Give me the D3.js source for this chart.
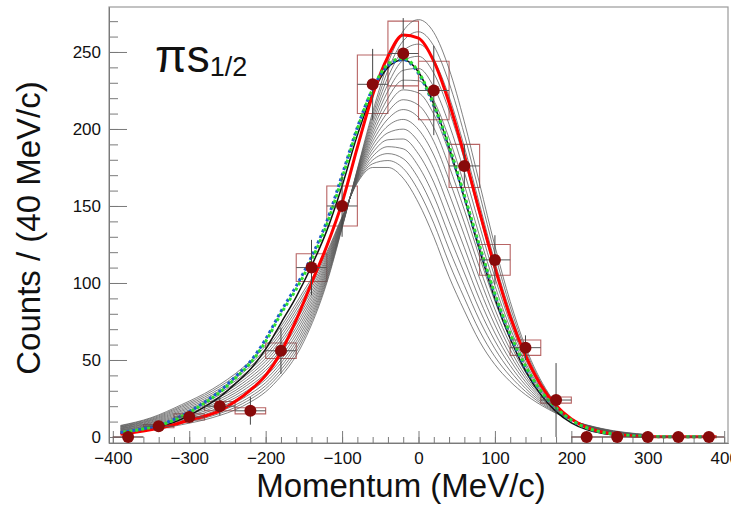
<!DOCTYPE html>
<html><head><meta charset="utf-8">
<script src="https://cdn.jsdelivr.net/npm/d3@7"></script>
<style>
body{margin:0;background:#fff;}
svg{display:block;font-family:"Liberation Sans",Arial,Helvetica,sans-serif;}
</style></head><body>
<svg id="chart" width="731" height="507"></svg>
<script>
// Measured spectrum, 40 MeV/c bins
const binCenters = [-380,-340,-300,-260,-220,-180,-140,-100,-60,-20,20,60,100,140,180,220,260,300,340,380];
const counts     = [0,7,13,20,17,56,110,150,229,249,225,176,115,58,24,0,0,0,0,0];
const statErrors = [0,3,4,6,9,15,18,20,23,23,29,14,16,8,24,0,0,0,0,0];
const sysErrors  = [0,1,2,3,2,5,9,13,19,21,19,14,10,5,2,0,0,0,0,0];
const binHalfWidth = 20;

// Family of model calculations (thin grey lines)
const modelGrid = [-390,-350,-310,-270,-230,-190,-150,-120,-100,-80,-60,-40,-20,0,20,40,60,80,100,120,140,170,200,240,300];
const modelFamily = [
  [7.5,12.5,21,31,45,65,95,120,143,165,175,175,168,152,130,104,82,62,47,36,27.5,18,11,5.5,1.5],
  [7.2,12.0,20.1,29.8,43.3,62.9,92.8,118.7,142.5,165.6,177.4,179.5,174.4,159.9,138.8,113,90.2,68.8,52.1,39.5,29.6,18.7,11.1,5.3,1.4],
  [6.8,11.4,19.3,28.5,41.7,60.9,90.6,117.3,142,166.2,179.8,184,180.7,167.9,147.7,122,98.3,75.7,57.3,42.9,31.6,19.4,11.1,5.2,1.3],
  [6.5,10.9,18.4,27.3,40,58.8,88.4,116,141.5,166.8,182.2,188.5,187.1,175.8,156.5,131,106.5,82.5,62.4,46.4,33.7,20.1,11.2,5.0,1.2],
  [6.2,10.4,17.5,26.1,38.3,56.7,86.2,114.7,141,167.4,184.6,193,193.5,183.7,165.4,140,114.7,89.3,67.5,49.9,35.8,20.8,11.2,4.8,1.2],
  [5.8,9.8,16.7,24.8,36.7,54.7,84,113.3,140.5,168,187,197.5,199.9,191.7,174.2,149,122.9,96.1,72.7,53.3,37.9,21.5,11.3,4.7,1.1],
  [5.5,9.3,15.8,23.6,35,52.6,81.8,112,140,168.6,189.4,202,206.2,199.6,183.1,158,131,103,77.8,56.8,39.9,22.2,11.4,4.5,1.0],
  [5.2,8.8,14.9,22.4,33.3,50.5,79.6,110.7,139.5,169.2,191.8,206.5,212.6,207.5,191.9,167,139.2,109.8,82.9,60.3,42,22.9,11.4,4.3,0.9],
  [4.8,8.2,14.1,21.1,31.7,48.5,77.4,109.3,139.1,169.8,194.2,211.1,219,215.5,200.8,176,147.4,116.6,88.1,63.7,44.1,23.6,11.5,4.2,0.8],
  [4.5,7.7,13.2,19.9,30,46.4,75.2,108,138.6,170.4,196.6,215.6,225.4,223.4,209.6,185,155.6,123.4,93.2,67.2,46.2,24.3,11.5,4.0,0.7],
  [4.2,7.2,12.3,18.7,28.3,44.3,73,106.7,138.1,171,199,220.1,231.7,231.3,218.5,194,163.7,130.3,98.3,70.7,48.2,25,11.6,3.8,0.6],
  [3.8,6.6,11.5,17.4,26.7,42.3,70.8,105.3,137.6,171.6,201.4,224.6,238.1,239.3,227.3,203,171.9,137.1,103.5,74.1,50.3,25.7,11.7,3.7,0.5],
  [3.5,6.1,10.6,16.2,25,40.2,68.6,104,137.1,172.2,203.8,229.1,244.5,247.2,236.2,212,180.1,143.9,108.6,77.6,52.4,26.4,11.7,3.5,0.5],
  [3.2,5.6,9.7,15.0,23.3,38.1,66.4,102.7,136.6,172.8,206.2,233.6,250.8,255.1,245,221,188.3,150.8,113.7,81.1,54.5,27.1,11.8,3.3,0.4],
  [2.8,5.0,8.9,13.7,21.7,36.1,64.2,101.3,136.1,173.4,208.6,238.1,257.2,263.1,253.9,230,196.4,157.6,118.9,84.5,56.5,27.8,11.8,3.2,0.3],
  [2.5,4.5,8,12.5,20,34,62,100,135.6,174,211,242.6,263.6,271,262.7,239,204.6,164.4,124,88,58.6,28.5,11.9,3.0,0.2]
];

// Highlighted calculations
const fitGrid  = [-390,-380,-360,-340,-320,-300,-280,-260,-240,-220,-200,-180,-160,-140,-120,-100,-80,-60,-40,-20,0,20,40,60,80,100,120,140,160,180,200,220,240,260,280,300,320,340,360,380,390];
const fitRed   = [1.8,2.4,3.8,5.6,8,11,13.5,17,23,30.5,40,55,76,100,124,152,188,222,247,261,259,244,217,183,146,110,78,53,33.8,20.4,11.7,6.3,3.2,1.6,0.7,0.3,0.15,0.1,0.1,0.1,0.1];
const fitBlack = [2.2,2.8,4.3,6.3,9.5,14,19.5,26,34.5,44,57,74,91,111,134,163,196,223,240,245,237,216,188,155,121,90,64,43,27.5,16.5,9.2,4.8,2.4,1.2,0.6,0.3,0.15,0.1,0.1,0.1,0.1];
const fitBlue  = [2.9,3.6,5.4,7.6,11.4,16.5,22.6,29.8,39,49,63.5,81.5,98,117,140,170,201,226,241,245,236,215,188,156,123,92,66,45,29.5,18.7,10.8,5.9,3.1,1.6,0.8,0.4,0.2,0.1,0.1,0.1,0.1];
const fitGreen = [2.8,3.5,5.2,7.3,11,16,22,29,38,48,62,80,96,115,138,168,200,226,242,246,237,216,189,157,124,93,67,46,30,19,11,6,3.2,1.6,0.8,0.4,0.2,0.1,0.1,0.1,0.1];

// Axis ticks
const xMajorTicks = [-400,-300,-200,-100,0,100,200,300,400];
const yMajorTicks = [0,50,100,150,200,250];

const W = 731, H = 507;
const frame = {left:109, right:728, top:7, bottom:443};
const svg = d3.select("#chart");
svg.append("rect").attr("width",W).attr("height",H).attr("fill","#fff");

const x = d3.scaleLinear().domain([-405,405]).range([frame.left, frame.right]);
const y = d3.scaleLinear().domain([-3.9,279.2]).range([frame.bottom, frame.top]);

const axisColor = "#7a7a7a";

// frame
svg.append("rect")
  .attr("x",frame.left).attr("y",frame.top)
  .attr("width",frame.right-frame.left).attr("height",frame.bottom-frame.top)
  .attr("fill","none").attr("stroke","#9a9a9a").attr("stroke-width",1.2);

// axes: ticks point into the frame
const yMinor = d3.range(0, 280, 10);
const xMinor = d3.range(-400, 401, 20);

const gy = svg.append("g").attr("transform",`translate(${frame.left},0)`);
gy.call(d3.axisLeft(y).tickValues(yMinor).tickSize(-9).tickSizeOuter(0).tickFormat(""));
gy.selectAll(".tick line").attr("stroke",axisColor);
const gyMaj = svg.append("g").attr("transform",`translate(${frame.left},0)`);
gyMaj.call(d3.axisLeft(y).tickValues(yMajorTicks).tickSize(-18).tickSizeOuter(0).tickPadding(8));
gyMaj.selectAll(".tick line").attr("stroke",axisColor);
gyMaj.selectAll(".tick text").attr("font-size",17).attr("fill","#111")
  .attr("font-family","Liberation Sans, Arial, sans-serif");

const gx = svg.append("g").attr("transform",`translate(0,${frame.bottom})`);
gx.call(d3.axisBottom(x).tickValues(xMinor).tickSize(-6).tickSizeOuter(0).tickFormat(""));
gx.selectAll(".tick line").attr("stroke",axisColor);
const gxMaj = svg.append("g").attr("transform",`translate(0,${frame.bottom})`);
gxMaj.call(d3.axisBottom(x).tickValues(xMajorTicks).tickSize(-12).tickSizeOuter(0).tickPadding(9));
gxMaj.selectAll(".tick line").attr("stroke",axisColor);
gxMaj.selectAll(".tick text").attr("font-size",17).attr("fill","#111")
  .attr("font-family","Liberation Sans, Arial, sans-serif");
svg.selectAll(".domain").attr("stroke",axisColor);

// systematic-error boxes
const boxes = svg.append("g");
binCenters.forEach((c,i) => {
  const x0 = x(c-binHalfWidth), x1 = x(c+binHalfWidth);
  const y0 = y(counts[i]+sysErrors[i]), y1 = y(counts[i]-sysErrors[i]);
  boxes.append("path")
    .attr("d",`M${x0},${y0}H${x1}V${y1}H${x0}Z`)
    .attr("fill","none").attr("stroke","#b86464").attr("stroke-width",1.1);
});

// model curves
const lineOn = grid => d3.line().x((d,i)=>x(grid[i])).y(d=>y(d)).curve(d3.curveMonotoneX);
const greyLine = lineOn(modelGrid);
svg.append("g").selectAll("path").data(modelFamily).join("path")
  .attr("d",greyLine).attr("fill","none").attr("stroke","#575757").attr("stroke-width",0.75);

const fitLine = lineOn(fitGrid);
svg.append("path").attr("d",fitLine(fitBlack)).attr("fill","none").attr("stroke","#111").attr("stroke-width",1.5);
svg.append("path").attr("d",fitLine(fitRed)).attr("fill","none").attr("stroke","#ff0000").attr("stroke-width",3);
svg.append("path").attr("d",fitLine(fitBlue)).attr("fill","none").attr("stroke","#1f5ccc")
  .attr("stroke-width",3).attr("stroke-dasharray","3,3");
svg.append("path").attr("d",fitLine(fitGreen)).attr("fill","none").attr("stroke","#2ee02e")
  .attr("stroke-width",3).attr("stroke-dasharray","3,3").attr("stroke-dashoffset",3);

// data points with statistical errors
const pts = svg.append("g");
binCenters.forEach((c,i) => {
  pts.append("line")
    .attr("x1",x(c-binHalfWidth)).attr("x2",x(c+binHalfWidth))
    .attr("y1",y(counts[i])).attr("y2",y(counts[i]))
    .attr("stroke","#555").attr("stroke-width",1);
  if (statErrors[i] > 0) {
    pts.append("line")
      .attr("x1",x(c)).attr("x2",x(c))
      .attr("y1",y(counts[i]-statErrors[i])).attr("y2",y(counts[i]+statErrors[i]))
      .attr("stroke","#444").attr("stroke-width",1);
  }
});
pts.selectAll("circle").data(binCenters).join("circle")
  .attr("cx",d=>x(d)).attr("cy",(d,i)=>y(counts[i])).attr("r",6)
  .attr("fill","#880a0a");

// titles
svg.append("text").attr("x",401).attr("y",497).attr("text-anchor","middle")
  .attr("font-size",33).attr("fill","#111").text("Momentum (MeV/c)");
svg.append("text").attr("transform","translate(40,228) rotate(-90)").attr("text-anchor","middle")
  .attr("font-size",33).attr("fill","#111").text("Counts / (40 MeV/c)");

const lab = svg.append("text").attr("x",155).attr("y",72).attr("fill","#111").attr("font-size",46);
lab.append("tspan").text("πs");
lab.append("tspan").attr("font-size",27).attr("dy",4).text("1/2");
</script>
</body></html>
